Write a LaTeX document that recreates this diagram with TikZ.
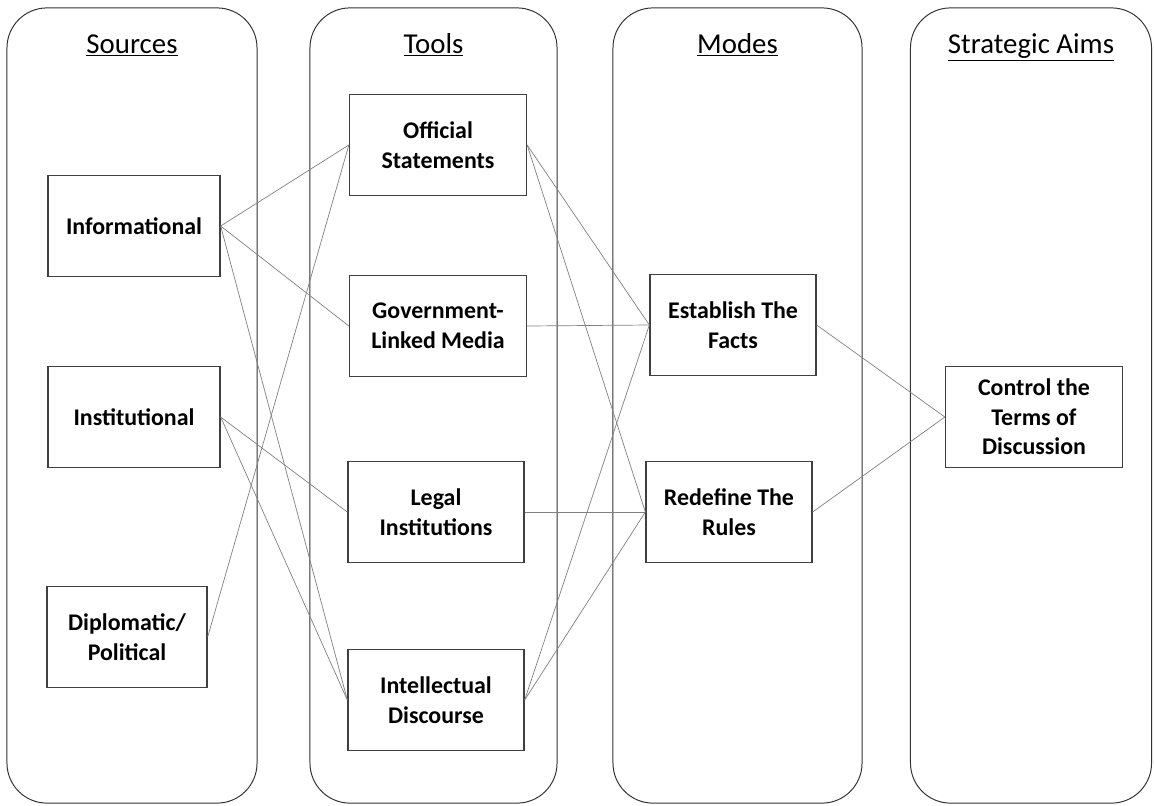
\documentclass[tikz,border=0pt]{standalone}
\usepackage{fontspec}
\setmainfont{Carlito}

\begin{document}
\begin{tikzpicture}[x=0.025cm,y=-0.025cm,
	every edge/.append style={draw=black!50,line width=0.5pt}]
    \tikzstyle{panel}=[draw=black!80,line width=0.7pt,rounded corners=1cm,minimum height=19.875cm,inner sep=0pt]
    \tikzstyle{head}=[anchor=base,font=\fontsize{20.5}{24}\selectfont]
    \tikzstyle{block}=[draw=black!75,line width=0.9pt,align=center,inner sep=0pt,
        minimum height=2.525cm,font=\bfseries\fontsize{17}{21}\selectfont]

    \useasboundingbox (0,0) rectangle (1154,805);

    % Draw the column panels
        \node[panel,minimum width=6.25cm] (P-1) at (132,405.5) {};
        \node[panel,minimum width=6.175cm] (P-2) at (433.5,405.5) {};
        \node[panel,minimum width=6.225cm] (P-3) at (737.5,405.5) {};
        \node[panel,minimum width=6.025cm] (P-4) at (1031,405.5) {};

    % Column headings
        \node[head] (H-1) at (132,53) {\underline{Sources}};
        \node[head] (H-2) at (433.5,53) {\underline{Tools}};
        \node[head] (H-3) at (737.5,53) {\underline{Modes}};
        \node[head] (H-4) at (1031,53) {\underline{Strategic Aims}};

    % Draw the sources
        \node[block,minimum width=4.3cm] (S-1) at (134,226) {Informational};
        \node[block,minimum width=4.3cm] (S-2) at (134,417) {Institutional};
        \node[block,minimum width=4cm] (S-3) at (127,637) {Diplomatic/\\Political};

    % Draw the tools
        \node[block,minimum width=4.425cm] (T-1) at (438,145) {Official\\Statements};
        \node[block,minimum width=4.425cm] (T-2) at (438,326) {Government-\\Linked Media};
        \node[block,minimum width=4.4cm] (T-3) at (436,512) {Legal\\Institutions};
        \node[block,minimum width=4.4cm] (T-4) at (436,700) {Intellectual\\Discourse};

    % Draw the modes
        \node[block,minimum width=4.15cm] (M-1) at (733,325) {Establish The\\Facts};
        \node[block,minimum width=4.15cm] (M-2) at (729,512) {Redefine The\\Rules};

    % Draw the aim
        \node[block,minimum width=4.425cm] (A) at (1034,417) {Control the\\Terms of\\Discussion};

    % Connect sources with tools
    \path (S-1.east) edge (T-1.west);
    \path (S-1.east) edge (T-2.west);
    \path (S-1.east) edge (T-4.west);
    \path (S-2.east) edge (T-3.west);
    \path (S-2.east) edge (T-4.west);
    \path (S-3.east) edge (T-1.west);

    % Connect tools with modes
    \path (T-1.east) edge (M-1.west);
    \path (T-1.east) edge (M-2.west);
    \path (T-2.east) edge (M-1.west);
    \path (T-3.east) edge (M-2.west);
    \path (T-4.east) edge (M-1.west);
    \path (T-4.east) edge (M-2.west);

    % Connect modes with the aim
    \path (M-1.east) edge (A.west);
    \path (M-2.east) edge (A.west);
\end{tikzpicture}
\end{document}
